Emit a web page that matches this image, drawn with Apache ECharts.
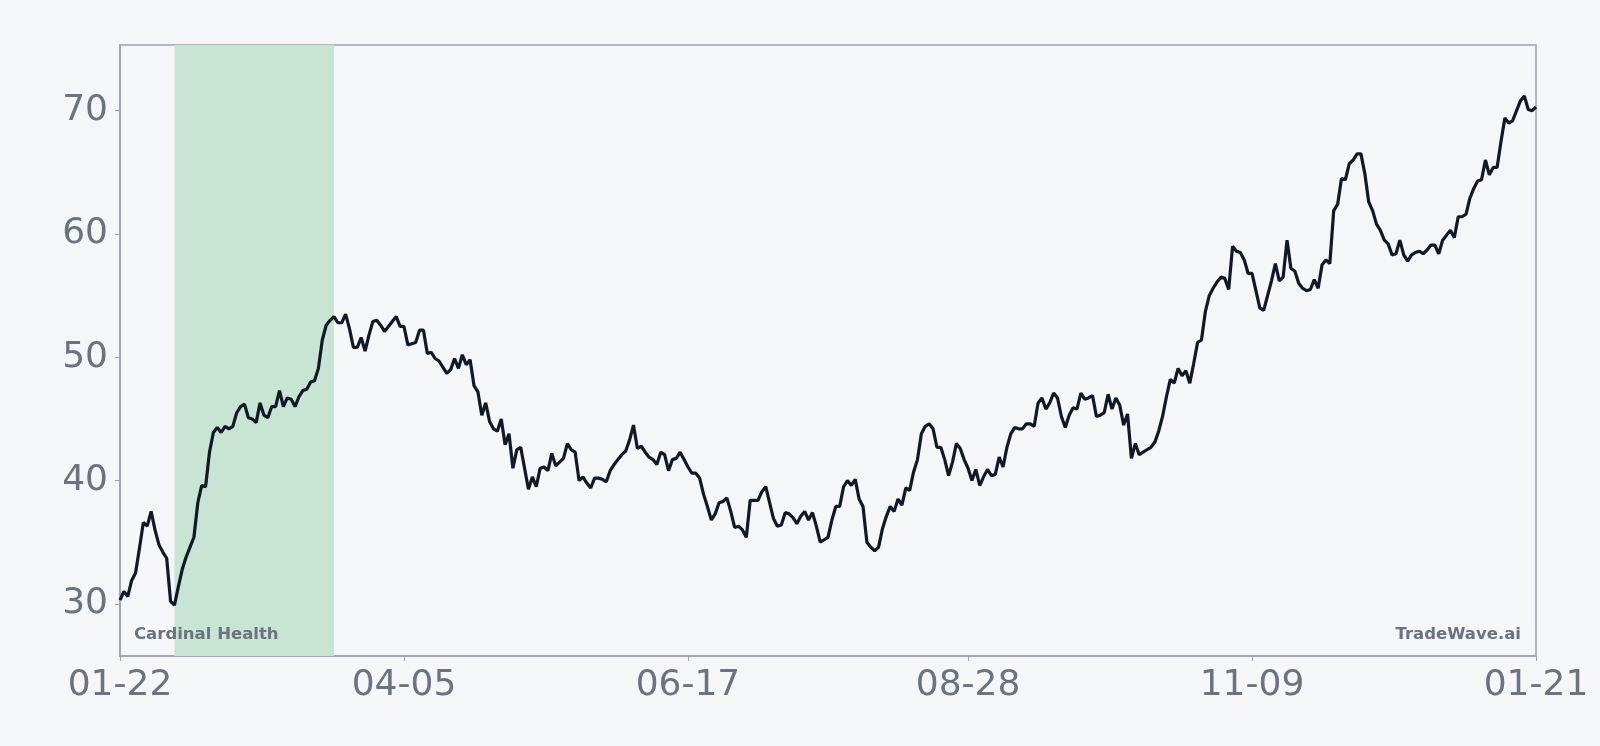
<!DOCTYPE html>
<html>
<head>
<meta charset="utf-8">
<script src="https://cdn.jsdelivr.net/npm/echarts@6/dist/echarts.min.js"></script>
<style>
html,body{margin:0;padding:0;background:#f4f6f8;}
#chart{width:1600px;height:746px;}
</style>
</head>
<body>
<div id="chart"></div>
<script>
// ---- data ----
const startDate = '2025-01-22';
const dayCount = 365;
const prices = [
30.3,31.0,30.6,31.9,32.5,34.5,36.6,36.3,37.5,36.0,
34.8,34.2,33.7,30.2,29.9,31.4,32.8,33.8,34.6,35.4,
38.2,39.6,39.5,42.3,43.9,44.3,43.9,44.4,44.2,44.4,
45.5,46.0,46.2,45.1,45.0,44.7,46.3,45.3,45.1,46.0,
46.0,47.3,46.0,46.7,46.6,46.0,46.8,47.3,47.4,48.0,
48.1,49.1,51.4,52.6,53.0,53.3,52.8,52.8,53.5,52.3,
50.8,50.8,51.6,50.5,51.8,52.9,53.0,52.6,52.1,52.5,
52.9,53.3,52.5,52.5,51.0,51.1,51.2,52.2,52.2,50.3,
50.4,49.9,49.7,49.2,48.7,49.0,49.9,49.1,50.2,49.4,
49.8,47.7,47.2,45.3,46.3,44.8,44.2,44.0,45.0,42.9,
43.8,41.0,42.5,42.7,41.0,39.3,40.3,39.5,41.0,41.1,
40.8,42.2,41.2,41.5,41.8,43.0,42.5,42.3,
40.0,40.3,39.8,39.4,40.2,40.2,40.1,39.9,40.8,41.3,
41.7,42.1,42.4,43.3,44.5,42.6,42.8,42.3,41.9,41.7,
41.3,42.3,42.1,40.8,41.7,41.8,42.3,41.7,41.1,40.6,
40.6,40.2,38.9,37.9,36.8,37.3,38.2,38.3,38.6,37.5,
36.2,36.3,36.0,35.4,38.4,38.4,38.4,39.1,39.5,38.2,
36.9,36.3,36.4,37.4,37.3,37.0,36.5,37.1,37.5,
36.8,
37.4,36.3,35.0,35.2,35.4,36.8,37.9,37.9,39.5,40.0,
39.6,40.1,38.5,37.9,35.0,34.6,34.3,34.6,36.1,37.1,
37.9,37.5,38.5,38.0,39.4,39.2,40.7,41.7,43.8,44.4,
44.6,44.2,42.7,42.7,41.7,40.4,41.5,43.0,42.6,41.7,
41.0,40.0,40.9,39.6,40.3,40.9,40.4,40.5,41.9,41.1,
42.7,43.8,44.3,44.2,44.2,44.6,44.6,44.4,
46.3,
46.7,45.8,46.3,47.1,46.7,45.2,44.3,45.3,45.9,45.8,
47.1,46.6,46.7,46.9,45.2,45.3,45.5,47.0,45.8,46.7,
46.1,44.5,45.4,41.8,43.0,42.1,42.3,42.5,42.7,43.1,
44.0,45.2,46.8,48.2,47.9,49.1,48.5,48.9,47.9,49.5,
51.2,51.4,53.7,55.0,55.6,56.1,56.5,56.4,55.5,59.0,
58.6,58.5,57.9,56.8,56.8,55.4,54.0,53.8,
55.0,
56.2,57.6,56.2,56.5,59.5,57.2,57.0,56.0,55.6,55.4,
55.5,56.3,55.6,57.5,57.9,57.6,61.9,62.4,64.5,64.4,
65.7,66.0,66.5,66.5,64.9,62.6,61.9,60.8,60.3,59.5,
59.2,58.3,58.4,59.5,58.3,57.8,58.3,58.5,58.6,58.4,
58.7,59.1,59.1,58.4,59.5,59.9,60.3,59.7,61.4,61.4,
61.6,62.9,63.7,64.3,64.4,66.0,64.8,65.4,65.4,67.5,
69.4,69.0,69.2,70.0,70.8,71.2,70.1,70.0,70.3
];
const tickLabels = ['01-22','04-05','06-17','08-28','11-09','01-21'];
const highlightRange = ['02-05','03-18'];
const companyName = 'Cardinal Health';
const brandName = 'TradeWave.ai';

// category labels: consecutive calendar days (MM-DD)
const dates = [];
(function(){
  const t0 = Date.parse(startDate + 'T00:00:00Z');
  for (let i = 0; i < dayCount; i++) {
    const d = new Date(t0 + i * 86400000);
    const mm = String(d.getUTCMonth() + 1).padStart(2, '0');
    const dd = String(d.getUTCDate()).padStart(2, '0');
    dates.push(mm + '-' + dd);
  }
})();

const showTick = (idx, val) => tickLabels.includes(val);

const chart = echarts.init(document.getElementById('chart'));
const labelColor = '#6b7280';
const frameColor = '#9ca3af';
chart.setOption({
  backgroundColor: '#f4f6f8',
  animation: false,
  grid: {left: 120, right: 64, top: 45, bottom: 90, containLabel: false,
         show: true, borderColor: frameColor, borderWidth: 1.5, backgroundColor: 'transparent'},
  xAxis: {
    type: 'category',
    data: dates,
    boundaryGap: false,
    axisLine: {show: true, lineStyle: {color: frameColor, width: 1.5}},
    axisTick: {show: true, length: 5, lineStyle: {color: frameColor, width: 1}, interval: (i, v) => showTick(i, v)},
    axisLabel: {show: true, interval: (i, v) => showTick(i, v), color: labelColor,
                fontFamily: 'DejaVu Sans', fontSize: 36, margin: 12},
    splitLine: {show: false}
  },
  yAxis: {
    type: 'value',
    min: v => +(v.min - (v.max - v.min) * 0.1).toFixed(2),
    max: v => +(v.max + (v.max - v.min) * 0.1).toFixed(2),
    splitNumber: 5,
    axisLine: {show: true, lineStyle: {color: frameColor, width: 1.5}},
    axisTick: {show: true, length: 5, lineStyle: {color: frameColor, width: 1}},
    axisLabel: {color: labelColor, fontFamily: 'DejaVu Sans', fontSize: 36, margin: 12,
                showMinLabel: false, showMaxLabel: false},
    splitLine: {show: false}
  },
  series: [{
    type: 'line',
    data: prices,
    showSymbol: false,
    symbol: 'none',
    lineStyle: {color: '#111827', width: 3.2},
    z: 3,
    markArea: {
      silent: true,
      itemStyle: {color: '#c8e5d4', opacity: 1},
      data: [[{xAxis: highlightRange[0]}, {xAxis: highlightRange[1]}]]
    }
  }],
  graphic: [
    {type: 'text', left: 134, top: 626, z: 10,
     style: {text: companyName, fill: labelColor, font: 'bold 16.5px "DejaVu Sans"'}},
    {type: 'text', right: 79, top: 626, z: 10,
     style: {text: brandName, fill: labelColor, font: 'bold 16.5px "DejaVu Sans"'}}
  ]
});
</script>
</body>
</html>
